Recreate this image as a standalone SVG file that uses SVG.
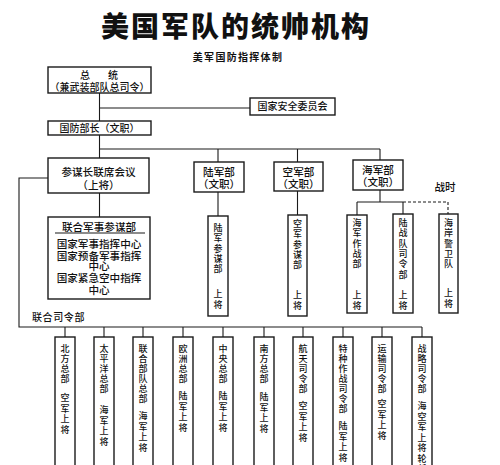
<svg xmlns="http://www.w3.org/2000/svg" width="500" height="465" viewBox="0 0 500 465">
<style>
.box{fill:#fff;stroke:#1a1a1a;stroke-width:1.4}
.ln{stroke:#1a1a1a;stroke-width:1.1;fill:none}
.dash{stroke:#1a1a1a;stroke-width:1.1;fill:none;stroke-dasharray:3,2}
text{font-family:"Noto Sans CJK SC","Noto Sans",sans-serif;font-size:10px;fill:#111;text-anchor:middle;font-weight:500}
.m{font-size:10.6px}
.v{font-size:9px}
.title{font-size:28px;font-weight:900;letter-spacing:2px}
.sub{font-size:10px;font-weight:700;letter-spacing:1.3px}
.lft{text-anchor:start}
</style>
<rect width="500" height="465" fill="#fff"/>
<text class="title" x="236" y="37">美国军队的统帅机构</text>
<text class="sub" x="238" y="61">美军国防指挥体制</text>

<g id="connectors">
<path class="ln" d="M99.5,93V121M99.5,108H250M99.5,135V158M99.5,149H380M218,149V162M297.5,149V162M380,149V160"/>
<path class="ln" d="M99.5,193V217M48,178H19V327H422"/>
<path class="ln" d="M218,192V216M297.5,191V215M380,190V202M357,202H403M357,202V215M403,202V214"/>
<path class="dash" d="M403,202H448V214"/>
<path class="ln" d="M65,327V337M104,327V337M143,327V337M183,327V337M223,327V337M264,327V337M303,327V337M343,327V337M382,327V337M422,327V337"/>
</g>

<g id="president"><rect class="box" x="48" y="67" width="103" height="26"/><text x="85" y="78.5">总</text><text x="113" y="78.5">统</text><text x="99.5" y="90.5">（兼武装部队总司令）</text></g>
<g id="nsc"><rect class="box" x="250" y="98" width="85" height="17"/><text x="292.5" y="110">国家安全委员会</text></g>
<g id="secdef"><rect class="box" x="48" y="121" width="103" height="14"/><text x="99.5" y="131.5">国防部长（文职）</text></g>
<g id="jcs"><rect class="box" x="48" y="158" width="101" height="35"/><text class="m" x="98.5" y="175.5">参谋长联席会议</text><text class="m" x="98.5" y="188.5">（上将）</text></g>
<g id="jointstaff"><rect class="box" x="48" y="217" width="102" height="82"/><text class="m" x="99" y="230.5">联合军事参谋部</text><path class="ln" d="M55,233H145"/><text class="m" x="99" y="247.5">国家军事指挥中心</text><text class="m" x="99" y="259.5">国家预备军事指挥</text><text class="m" x="99" y="270">中心</text><text class="m" x="99" y="282">国家紧急空中指挥</text><text class="m" x="99" y="293.5">中心</text></g>
<g id="army"><rect class="box" x="194" y="162" width="50" height="30"/><text class="m" x="219" y="175.5">陆军部</text><text class="m" x="219" y="187.5">（文职）</text></g>
<g id="airforce"><rect class="box" x="274" y="162" width="49" height="29"/><text class="m" x="298.5" y="175.5">空军部</text><text class="m" x="298.5" y="187.5">（文职）</text></g>
<g id="navy"><rect class="box" x="353" y="160" width="50" height="30"/><text class="m" x="378" y="173.5">海军部</text><text class="m" x="378" y="185.5">（文职）</text></g>
<text class="m" x="445" y="191">战时</text>

<g id="armystaff"><rect class="box" x="208" y="216" width="20" height="100"/>
<text class="v"><tspan x="218" y="231">陆</tspan><tspan x="218" y="241.3">军</tspan><tspan x="218" y="251.6">参</tspan><tspan x="218" y="261.9">谋</tspan><tspan x="218" y="272.2">部</tspan><tspan x="218" y="297">上</tspan><tspan x="218" y="308">将</tspan></text></g>
<g id="airstaff"><rect class="box" x="288" y="215" width="19" height="101"/>
<text class="v"><tspan x="297.5" y="227">空</tspan><tspan x="297.5" y="237.3">军</tspan><tspan x="297.5" y="247.6">参</tspan><tspan x="297.5" y="257.9">谋</tspan><tspan x="297.5" y="268.2">部</tspan><tspan x="297.5" y="298">上</tspan><tspan x="297.5" y="309">将</tspan></text></g>
<g id="navyops"><rect class="box" x="347" y="215" width="20" height="98"/>
<text class="v"><tspan x="357" y="226">海</tspan><tspan x="357" y="236.3">军</tspan><tspan x="357" y="246.6">作</tspan><tspan x="357" y="256.9">战</tspan><tspan x="357" y="267.2">部</tspan><tspan x="357" y="298">上</tspan><tspan x="357" y="309">将</tspan></text></g>
<g id="marines"><rect class="box" x="393" y="214" width="20" height="99"/>
<text class="v"><tspan x="403" y="226">陆</tspan><tspan x="403" y="236.3">战</tspan><tspan x="403" y="246.6">队</tspan><tspan x="403" y="256.9">司</tspan><tspan x="403" y="267.2">令</tspan><tspan x="403" y="277.5">部</tspan><tspan x="403" y="298">上</tspan><tspan x="403" y="309">将</tspan></text></g>
<g id="coastguard"><rect class="box" x="439" y="214" width="19" height="99"/>
<text class="v"><tspan x="448.5" y="226">海</tspan><tspan x="448.5" y="236.3">岸</tspan><tspan x="448.5" y="246.6">警</tspan><tspan x="448.5" y="256.9">卫</tspan><tspan x="448.5" y="267.2">队</tspan><tspan x="448.5" y="296">上</tspan><tspan x="448.5" y="307">将</tspan></text></g>

<text class="lft" x="32" y="321" letter-spacing="0.6">联合司令部</text>

<g id="northcom"><rect class="box" x="55" y="337" width="20" height="140"/>
<text class="v"><tspan x="65" y="351.5">北</tspan><tspan x="65" y="361.5">方</tspan><tspan x="65" y="371.5">总</tspan><tspan x="65" y="381.5">部</tspan><tspan x="65" y="401">空</tspan><tspan x="65" y="411.5">军</tspan><tspan x="65" y="422">上</tspan><tspan x="65" y="432.5">将</tspan></text></g>
<g id="pacom"><rect class="box" x="94" y="337" width="20" height="140"/>
<text class="v"><tspan x="104" y="351.5">太</tspan><tspan x="104" y="361.5">平</tspan><tspan x="104" y="371.5">洋</tspan><tspan x="104" y="381.5">总</tspan><tspan x="104" y="391.5">部</tspan><tspan x="104" y="413">海</tspan><tspan x="104" y="423.5">军</tspan><tspan x="104" y="434">上</tspan><tspan x="104" y="444.5">将</tspan></text></g>
<g id="jfcom"><rect class="box" x="133" y="337" width="20" height="140"/>
<text class="v"><tspan x="143" y="351.5">联</tspan><tspan x="143" y="361.5">合</tspan><tspan x="143" y="371.5">部</tspan><tspan x="143" y="381.5">队</tspan><tspan x="143" y="391.5">总</tspan><tspan x="143" y="401.5">部</tspan><tspan x="143" y="419">海</tspan><tspan x="143" y="429.5">军</tspan><tspan x="143" y="440">上</tspan><tspan x="143" y="450.5">将</tspan></text></g>
<g id="eucom"><rect class="box" x="173" y="337" width="20" height="140"/>
<text class="v"><tspan x="183" y="351.5">欧</tspan><tspan x="183" y="361.5">洲</tspan><tspan x="183" y="371.5">总</tspan><tspan x="183" y="381.5">部</tspan><tspan x="183" y="399">陆</tspan><tspan x="183" y="409.5">军</tspan><tspan x="183" y="420">上</tspan><tspan x="183" y="430.5">将</tspan></text></g>
<g id="centcom"><rect class="box" x="213" y="337" width="20" height="140"/>
<text class="v"><tspan x="223" y="351.5">中</tspan><tspan x="223" y="361.5">央</tspan><tspan x="223" y="371.5">总</tspan><tspan x="223" y="381.5">部</tspan><tspan x="223" y="399">陆</tspan><tspan x="223" y="409.5">军</tspan><tspan x="223" y="420">上</tspan><tspan x="223" y="430.5">将</tspan></text></g>
<g id="southcom"><rect class="box" x="254" y="337" width="20" height="140"/>
<text class="v"><tspan x="264" y="351.5">南</tspan><tspan x="264" y="361.5">方</tspan><tspan x="264" y="371.5">总</tspan><tspan x="264" y="381.5">部</tspan><tspan x="264" y="400">陆</tspan><tspan x="264" y="410.5">军</tspan><tspan x="264" y="421">上</tspan><tspan x="264" y="431.5">将</tspan></text></g>
<g id="spacecom"><rect class="box" x="293" y="337" width="20" height="140"/>
<text class="v"><tspan x="303" y="351.5">航</tspan><tspan x="303" y="361.5">天</tspan><tspan x="303" y="371.5">司</tspan><tspan x="303" y="381.5">令</tspan><tspan x="303" y="391.5">部</tspan><tspan x="303" y="409">空</tspan><tspan x="303" y="419.5">军</tspan><tspan x="303" y="430">上</tspan><tspan x="303" y="440.5">将</tspan></text></g>
<g id="socom"><rect class="box" x="333" y="337" width="20" height="140"/>
<text class="v"><tspan x="343" y="351.5">特</tspan><tspan x="343" y="361.5">种</tspan><tspan x="343" y="371.5">作</tspan><tspan x="343" y="381.5">战</tspan><tspan x="343" y="391.5">司</tspan><tspan x="343" y="401.5">令</tspan><tspan x="343" y="411.5">部</tspan><tspan x="343" y="429">陆</tspan><tspan x="343" y="439.5">军</tspan><tspan x="343" y="450">上</tspan><tspan x="343" y="460.5">将</tspan></text></g>
<g id="transcom"><rect class="box" x="372" y="337" width="20" height="140"/>
<text class="v"><tspan x="382" y="351.5">运</tspan><tspan x="382" y="361.5">输</tspan><tspan x="382" y="371.5">司</tspan><tspan x="382" y="381.5">令</tspan><tspan x="382" y="391.5">部</tspan><tspan x="382" y="407">空</tspan><tspan x="382" y="417.5">军</tspan><tspan x="382" y="428">上</tspan><tspan x="382" y="438.5">将</tspan></text></g>
<g id="stratcom"><rect class="box" x="412" y="337" width="20" height="140"/>
<text class="v"><tspan x="422" y="351.5">战</tspan><tspan x="422" y="361.5">略</tspan><tspan x="422" y="371.5">司</tspan><tspan x="422" y="381.5">令</tspan><tspan x="422" y="391.5">部</tspan><tspan x="422" y="409">海</tspan><tspan x="422" y="419.5">空</tspan><tspan x="422" y="430">军</tspan><tspan x="422" y="440.5">上</tspan><tspan x="422" y="451">将</tspan><tspan x="422" y="461.5">轮</tspan><tspan x="422" y="472">任</tspan></text></g>
</svg>
